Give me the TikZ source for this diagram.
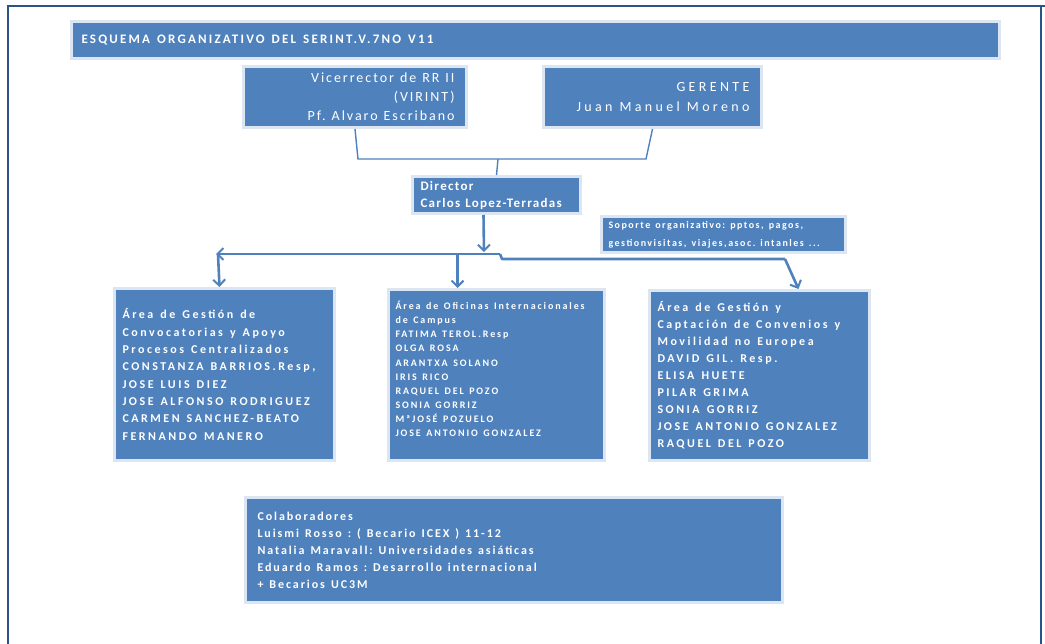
\documentclass[tikz,border=0pt]{standalone}
\usepackage{fontspec}
\setmainfont{Carlito}
\newfontfamily\titlefont[LetterSpace=17]{Carlito}
\newfontfamily\headfont[LetterSpace=14]{Carlito}
\newfontfamily\widefont[LetterSpace=24]{Carlito}
\newfontfamily\dirfont[LetterSpace=10]{Carlito}
\newfontfamily\areafont[LetterSpace=21]{Carlito}
\newfontfamily\smallfont[LetterSpace=19]{Carlito}
\newfontfamily\sopfont[LetterSpace=15]{Carlito}
\newfontfamily\colfont[LetterSpace=16]{Carlito}
\newcommand\wordgap[1]{\spaceskip=#1\relax\xspaceskip=#1\relax}
\usepackage{tikz}
\usetikzlibrary{arrows.meta,positioning}
\definecolor{boxblue}{HTML}{4F81BD}
\definecolor{edgeblue}{HTML}{DCE6F2}
\definecolor{framenavy}{HTML}{2C5389}

\begin{document}
\begin{tikzpicture}[x=1pt, y=-1pt,
  box/.style={draw=edgeblue, line width=3pt, fill=boxblue, text=white, anchor=north west, inner ysep=0pt},
  wgap/.style={execute at begin node={\wordgap{#1}}},
  link/.style={draw=boxblue, line width=1.4pt},
  bus/.style={draw=boxblue, line width=2.6pt, line join=round},
  arr/.style={bus, -{Straight Barb[length=6pt,width=12pt,line width=2pt]}}
]
\useasboundingbox (0,0) rectangle (1045,644);
% page frame
\draw[framenavy, line width=2pt] (8,644) -- (8,6) -- (1045,6);
\draw[framenavy, line width=1.5pt] (1041,6) -- (1041,644);

\node[box, wgap=7pt, minimum width=928, minimum height=37, inner xsep=10pt, text width=908, align=left,
  font={\titlefont\fontsize{13}{16}\selectfont\bfseries}] (title) at (70,20)
  {ESQUEMA ORGANIZATIVO DEL SERINT.V.7NO V11};

\node[box, wgap=6pt, minimum width=223, minimum height=61, inner xsep=12pt, text width=199, align=right,
  font={\headfont\fontsize{14}{19}\selectfont}] (vice) at (242,65)
  {Vicerrector de RR II\\(VIRINT)\\Pf. Alvaro Escribano};
\node[box, wgap=7pt, minimum width=218, minimum height=61, inner xsep=12pt, text width=194, align=right,
  font={\widefont\fontsize{14}{20}\selectfont}] (ger) at (542,65)
  {GERENTE\\Juan Manuel Moreno};

\node[box, wgap=5pt, minimum width=168, minimum height=37, inner xsep=8pt, text width=152, align=left,
  font={\dirfont\fontsize{13}{17}\selectfont\bfseries}] (dir) at (411,175)
  {Director\\Carlos Lopez-Terradas};

\node[box, wgap=5pt, minimum width=244, minimum height=36, inner xsep=7pt, text width=230, align=left,
  font={\sopfont\fontsize{10}{18}\selectfont\bfseries}] (sop) at (600,215)
  {Soporte organizativo: pptos, pagos,\\gestionvisitas, viajes,asoc. intanles ...};

\node[box, wgap=7pt, minimum width=220, minimum height=172, inner xsep=8pt, text width=204, align=left,
  font={\areafont\fontsize{12}{17.3}\selectfont\bfseries}] (gest) at (113,287)
  {Área de Gestión de\\Convocatorias y Apoyo\\Procesos Centralizados\\CONSTANZA BARRIOS.Resp,\\JOSE LUIS DIEZ\\JOSE ALFONSO RODRIGUEZ\\CARMEN SANCHEZ-BEATO\\FERNANDO MANERO};
\node[box, wgap=5.5pt, minimum width=216, minimum height=171, inner xsep=7pt, text width=202, align=left,
  font={\smallfont\fontsize{10}{14.1}\selectfont\bfseries}] (ofic) at (387,288)
  {Área de Oficinas Internacionales\\de Campus\\FATIMA TEROL.Resp\\OLGA ROSA\\ARANTXA SOLANO\\IRIS RICO\\RAQUEL DEL POZO\\SONIA GORRIZ\\MªJOSÉ POZUELO\\JOSE ANTONIO GONZALEZ\\[-2pt]\mbox{}};
\node[box, wgap=7pt, minimum width=220, minimum height=170, inner xsep=8pt, text width=204, align=left,
  font={\areafont\fontsize{12}{17}\selectfont\bfseries}] (conv) at (648,289)
  {Área de Gestión y\\Captación de Convenios y\\Movilidad no Europea\\DAVID GIL. Resp.\\ELISA HUETE\\PILAR GRIMA\\SONIA GORRIZ\\JOSE ANTONIO GONZALEZ\\RAQUEL DEL POZO};

\node[box, wgap=6pt, minimum width=537, minimum height=105, inner xsep=12pt, text width=513, align=left,
  font={\colfont\fontsize{12}{17}\selectfont\bfseries}] (colab) at (244,496)
  {Colaboradores\\Luismi Rosso : ( Becario ICEX ) 11-12\\Natalia Maravall: Universidades asiáticas\\Eduardo Ramos : Desarrollo internacional\\+ Becarios UC3M};

% upper connector
\coordinate (jl) at (358,159);
\coordinate (jr) at (646,159);
\coordinate (jm) at (498,159);
\draw[link] (vice.south) -- (jl) -- (jr) -- (ger.south);
\draw[link] (jm) -- (dir.north);

% distribution bus
\coordinate (busL) at (216,254);
\coordinate (busM) at (500,254);
\coordinate (busR) at (785,259);
\draw[arr] ([xshift=-13pt]dir.south) -- (484,252);
\draw[arr] (busM) -- (busL);
\draw[bus] (busM) -- ++(2,5) -- (busR);
\draw[arr] ([xshift=2pt]busL) -- ([xshift=-5pt]gest.north);
\draw[arr] ([xshift=-39pt]ofic.north |- busL) -- ([xshift=-39pt]ofic.north);
\draw[arr] (busR) -- ([xshift=39pt]conv.north);
\end{tikzpicture}
\end{document}
